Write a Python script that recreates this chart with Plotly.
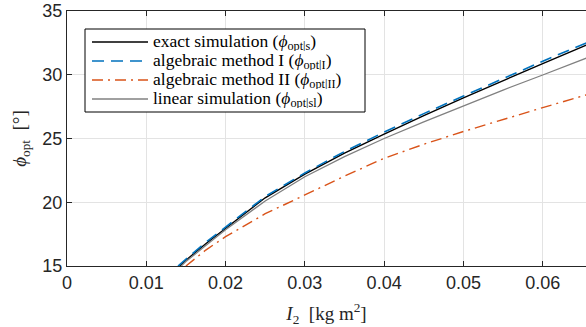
import plotly.graph_objects as go

# ---- data ----
I_exact = [0.0142, 0.015, 0.0175, 0.02, 0.025, 0.03, 0.035, 0.04, 0.045, 0.05, 0.055, 0.06, 0.0655]
phi_exact = [15.0, 15.45, 16.75, 17.97, 20.35, 22.2, 23.85, 25.35, 26.8, 28.18, 29.55, 30.88, 32.33]

I_alg1 = [0.0140, 0.015, 0.0175, 0.02, 0.025, 0.03, 0.035, 0.04, 0.045, 0.05, 0.055, 0.06, 0.0655]
phi_alg1 = [15.0, 15.55, 16.85, 18.05, 20.45, 22.3, 23.98, 25.5, 26.95, 28.33, 29.72, 31.06, 32.5]

I_alg2 = [0.0150, 0.0175, 0.02, 0.025, 0.03, 0.035, 0.04, 0.045, 0.05, 0.055, 0.06, 0.0655]
phi_alg2 = [15.0, 16.25, 17.3, 19.1, 20.57, 22.05, 23.45, 24.55, 25.55, 26.5, 27.42, 28.42]

I_lin = [0.0144, 0.015, 0.0175, 0.02, 0.025, 0.03, 0.035, 0.04, 0.045, 0.05, 0.055, 0.06, 0.0655]
phi_lin = [15.0, 15.35, 16.6, 17.85, 20.1, 22.0, 23.58, 25.0, 26.3, 27.55, 28.8, 29.98, 31.3]

x_ticks = [0, 0.01, 0.02, 0.03, 0.04, 0.05, 0.06]
x_ticklabels = ["0", "0.01", "0.02", "0.03", "0.04", "0.05", "0.06"]
y_ticks = [15, 20, 25, 30, 35]

names = [
    "exact simulation (<i>ϕ</i><sub>opt|s</sub>)",
    "algebraic method I (<i>ϕ</i><sub>opt|I</sub>)",
    "algebraic method II (<i>ϕ</i><sub>opt|II</sub>)",
    "linear simulation (<i>ϕ</i><sub>opt|sl</sub>)",
]

SERIF = "Liberation Serif"
SANS = "Liberation Sans"
AX = "#262626"

styles = [
    dict(color="#000000", width=1.4),
    dict(color="#0072BD", width=1.6, dash="12px,7px"),
    dict(color="#D95319", width=1.4, dash="11px,5px,2px,5px"),
    dict(color="#808080", width=1.3),
]
series = [(I_exact, phi_exact), (I_alg1, phi_alg1), (I_alg2, phi_alg2), (I_lin, phi_lin)]

fig = go.Figure()
for (xs, ys), nm, st in zip(series, names, styles):
    fig.add_trace(go.Scatter(x=xs, y=ys, mode="lines", name=nm, line=st,
                             showlegend=False))

# plot area in pixels
L, R, T, B = 67, 586, 11, 266
W, H = R - L, B - T


def px(x):
    return (x - L) / W


def py(y):
    return 1 - (y - T) / H


# custom legend (MATLAB style)
shapes = [dict(type="rect", xref="paper", yref="paper",
               x0=px(85), x1=px(365), y0=py(29), y1=py(112),
               line=dict(color="#000000", width=1), fillcolor="white", layer="above")]
annotations = []
rows = [42, 61, 80, 99]
for nm, st, ry in zip(names, styles, rows):
    shapes.append(dict(type="line", xref="paper", yref="paper",
                       x0=px(92), x1=px(148), y0=py(ry), y1=py(ry),
                       line=st, layer="above"))
    annotations.append(dict(text=nm, xref="paper", yref="paper",
                            x=px(152), y=py(ry), xanchor="left", yanchor="middle",
                            height=18, valign="middle", borderpad=0,
                            showarrow=False,
                            font=dict(family=SERIF, size=17.5, color="#000000")))

fig.update_layout(
    width=586, height=327,
    margin=dict(l=L, r=0, t=T, b=327 - B),
    paper_bgcolor="white", plot_bgcolor="white",
    font=dict(family=SANS, size=18, color=AX),
    showlegend=False,
    shapes=shapes, annotations=annotations,
)
fig.update_xaxes(
    range=[0, 0.06546], tickvals=x_ticks, ticktext=x_ticklabels,
    showgrid=True, gridcolor="#e3e3e3", gridwidth=1,
    showline=True, linecolor=AX, linewidth=1, mirror="ticks",
    ticks="inside", ticklen=5, tickcolor=AX, zeroline=False,
    tickfont=dict(family=SANS, size=18, color=AX),
    title=dict(text="<i>I</i><sub>2</sub>  [kg m<sup>2</sup>]",
               font=dict(family=SERIF, size=19, color=AX), standoff=16),
)
fig.update_yaxes(
    range=[15, 35], tickvals=y_ticks,
    showgrid=True, gridcolor="#e3e3e3", gridwidth=1,
    showline=True, linecolor=AX, linewidth=1, mirror=False,
    ticks="inside", ticklen=5, tickcolor=AX, zeroline=False,
    tickfont=dict(family=SANS, size=18, color=AX),
    title=dict(text="<i>ϕ</i><sub>opt</sub>  [°]",
               font=dict(family=SERIF, size=19, color=AX), standoff=10),
)

fig.write_html("out.html")
